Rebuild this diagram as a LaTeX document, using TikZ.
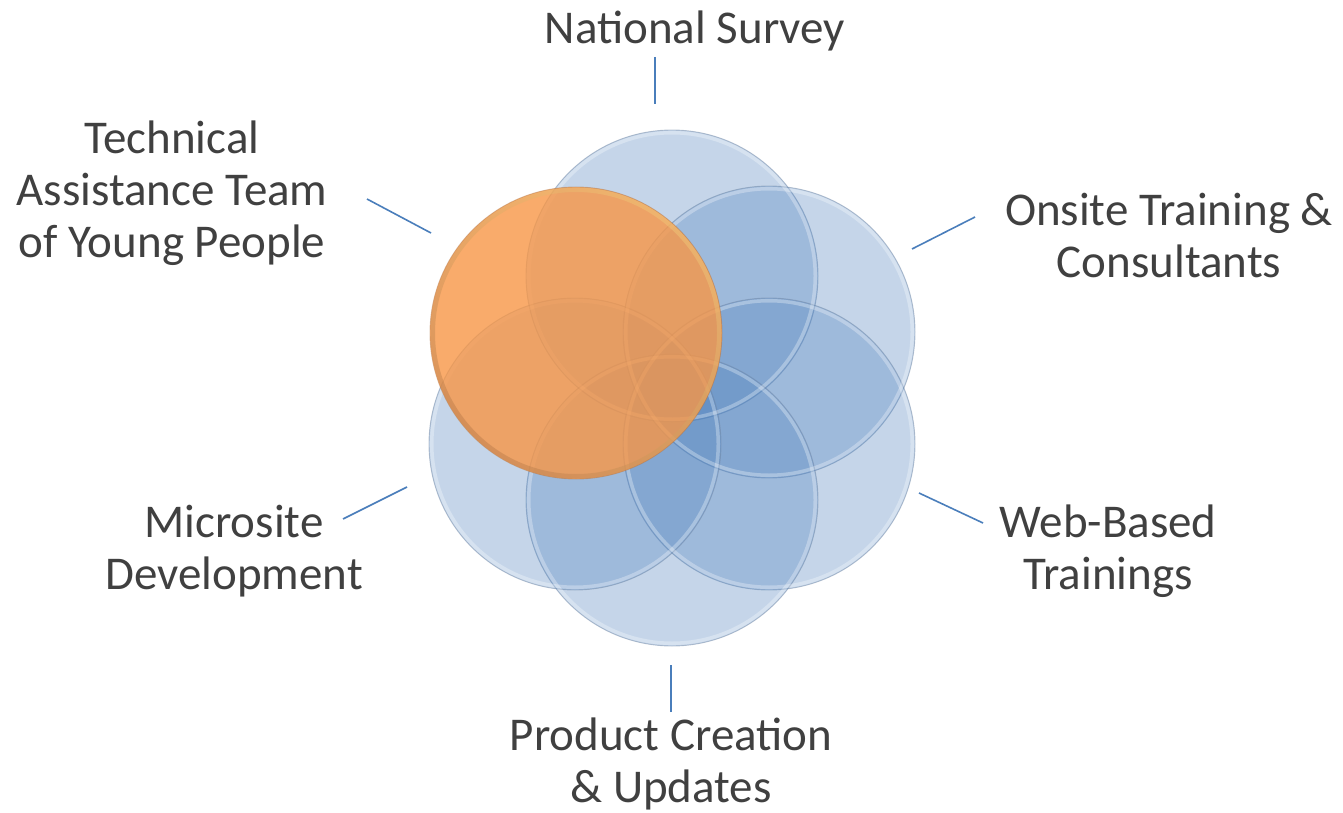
\documentclass[tikz,border=0pt]{standalone}
\usepackage{fontspec}
\setmainfont{Carlito}
\definecolor{textgray}{HTML}{404040}
\definecolor{leaderblue}{HTML}{4A7EBB}
\definecolor{bubbleblue}{HTML}{4F81BD}
\definecolor{bubblerim}{HTML}{7389A6}
\definecolor{accentorange}{HTML}{F79646}
\definecolor{orangeshadow}{HTML}{B07444}
\definecolor{orangeglow}{HTML}{F3D07C}
\begin{document}
\begin{tikzpicture}[x=1pt,y=-1pt,
  lbl/.style={font=\fontsize{47}{52}\selectfont, text=textgray, align=center,
              inner sep=0pt, anchor=north},
  leader/.style={draw=leaderblue, line width=1.6pt},
  bubble/.style={circle, inner sep=0pt, minimum size=292pt,
                 fill=bubbleblue, fill opacity=0.33,
                 draw=bubblerim, draw opacity=0.5, line width=0.9pt},
  hub/.style={circle, inner sep=0pt, minimum size=292pt,
              fill=accentorange, fill opacity=0.8,
              draw=orangeshadow, draw opacity=0.45, line width=0.9pt},
]
\useasboundingbox (0,0) rectangle (1343,813);

% ring of six overlapping discs
\node[bubble] (survey)  at (672,276) {};
\node[bubble] (onsite)  at (769,332) {};
\node[bubble] (web)     at (769,444) {};
\node[bubble] (product) at (672,500) {};
\node[bubble] (micro)   at (575,444) {};

% soft glassy rims on the blue discs
\foreach \c in {survey,onsite,web,product,micro}{
  \fill[even odd rule, white, opacity=0.3]
    (\c.center) circle (145pt) (\c.center) circle (141.5pt);
}

\node[hub] (team) at (576,333) {};
\shade[even odd rule, left color=orangeshadow, right color=orangeglow,
       shading angle=135, opacity=0.4]
  (team.center) circle (145.5pt) (team.center) circle (141pt);

% labels
\node[lbl] (lsurvey)  at (695,43-38)  {\rule{0pt}{38pt}National Survey};
\node[lbl] (lteam)    at (172,153-38) {\rule{0pt}{38pt}Technical\\Assistance Team\\of Young People};
\node[lbl] (lonsite)  at (1169,225-38) {\rule{0pt}{38pt}Onsite Training \&\\Consultants};
\node[lbl] (lmicro)   at (234,537-38) {\rule{0pt}{38pt}Microsite\\Development};
\node[lbl] (lweb)     at (1108,537-38) {\rule{0pt}{38pt}Web-Based\\Trainings};
\node[lbl] (lproduct) at (671,750-38) {\rule{0pt}{38pt}Product Creation\\\& Updates};

% leader lines
\coordinate (a1) at (655,57);   \coordinate (b1) at (655,104);
\coordinate (a2) at (367,199);  \coordinate (b2) at (431,233);
\coordinate (a3) at (975,217);  \coordinate (b3) at (912,249);
\coordinate (a4) at (983,523);  \coordinate (b4) at (919,493);
\coordinate (a5) at (343,519);  \coordinate (b5) at (407,487);
\coordinate (a6) at (671,712);  \coordinate (b6) at (671,665);
\foreach \i in {1,...,6}{ \draw[leader] (a\i) -- (b\i); }
\end{tikzpicture}
\end{document}
